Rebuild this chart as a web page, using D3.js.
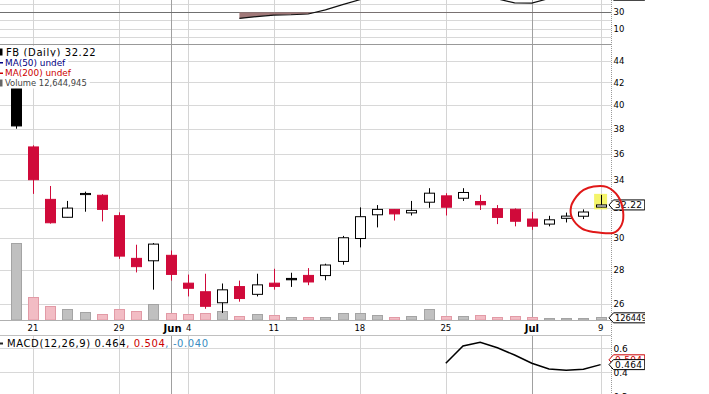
<!DOCTYPE html>
<html>
<head>
<meta charset="utf-8">
<script src="https://cdn.jsdelivr.net/npm/d3@7"></script>
<style>
  body { margin: 0; background: #fff; }
  svg { display: block; font-family: "DejaVu Sans", Verdana, sans-serif; }
</style>
</head>
<body>
<div id="container"></div>
<script>
// FB daily, May 18 - Jul 9 2012
const dates = ["2012-05-18","2012-05-21","2012-05-22","2012-05-23","2012-05-24","2012-05-25",
  "2012-05-29","2012-05-30","2012-05-31","2012-06-01","2012-06-04","2012-06-05","2012-06-06",
  "2012-06-07","2012-06-08","2012-06-11","2012-06-12","2012-06-13","2012-06-14","2012-06-15",
  "2012-06-18","2012-06-19","2012-06-20","2012-06-21","2012-06-22","2012-06-25","2012-06-26",
  "2012-06-27","2012-06-28","2012-06-29","2012-07-02","2012-07-03","2012-07-05","2012-07-06",
  "2012-07-09"];
const opens = [42.05,36.53,32.61,31.37,32.95,32.90,31.48,28.70,28.55,28.89,27.20,26.70,26.07,
  27.00,26.55,27.20,27.48,27.66,27.65,28.51,29.96,31.54,31.91,31.67,32.41,32.86,32.69,32.46,
  31.96,31.92,31.25,30.91,31.30,31.44,32.07];
const highs = [45.00,36.66,33.57,32.50,33.16,32.98,31.71,29.56,29.67,29.19,27.71,27.76,27.18,
  27.35,27.76,28.06,27.82,28.10,28.37,30.13,32.05,32.21,31.93,32.50,33.41,33.05,33.41,32.93,
  32.21,31.98,31.73,31.47,31.69,31.91,32.93];
const lows = [38.00,33.00,30.94,31.36,31.75,31.09,28.67,27.84,26.82,27.35,26.43,25.73,25.50,
  26.13,26.43,26.82,26.98,27.08,27.37,28.31,29.39,30.69,31.15,31.49,32.02,31.49,32.50,31.87,
  30.91,30.76,30.53,30.76,31.02,31.25,32.05];
const closes = [38.23,34.03,31.00,32.00,33.03,31.91,28.84,28.19,29.60,27.72,26.90,25.87,26.81,
  26.31,27.10,27.01,27.40,27.27,28.29,30.01,31.41,31.91,31.60,31.84,33.05,32.06,33.10,32.23,
  31.36,31.10,30.77,31.20,31.45,31.73,32.22];
const volumes = [573.6e6,168.2e6,101.8e6,73.6e6,50.2e6,37.1e6,78.1e6,57.3e6,111.6e6,41.9e6,
  35.2e6,42.0e6,61.5e6,26.2e6,38.0e6,28.2e6,15.8e6,17.1e6,16.9e6,43.6e6,42.9e6,30.8e6,15.6e6,
  21.9e6,74.8e6,24.4e6,24.9e6,28.6e6,17.7e6,19.5e6,14.1e6,8.8e6,10.0e6,10.9e6,12644945];

// RSI(14) from Jun 7, MACD(12,26,9) from Jun 25
const rsiStart = 13;
const rsiVals = [22.5,24.7,26.6,27.0,27.9,33.0,39.5,45.5,55,53,55,62,57,60,55,46.5,41.5,41.3,
  47,49,50,51];
const macdStart = 25;
const macdVals = [0.475,0.619,0.650,0.605,0.544,0.475,0.428,0.417,0.425,0.464];
const macdSignal = 0.504;
const macdHist = -0.040;

const weekTicks = ["2012-05-21","2012-05-29","2012-06-04","2012-06-11","2012-06-18","2012-06-25","2012-07-09"];
const weekLabels = ["21","29","4","11","18","25","9"];
const monthTicks = ["2012-06-01","2012-07-02"];
const monthLabels = ["Jun","Jul"];
const priceTicks = [26,28,30,32,34,36,38,40,42,44];
const rsiGrid = [0,10,20,40];
const rsiLabels = [30,10];
const macdGrid = [0.4,0.6];
const macdLabels = [0.6,0.4,0.2];

document.addEventListener("DOMContentLoaded", function () {
  const last = dates.length - 1;
  const axisX = 611;
  const rsiBox = [0, 44.3];
  const mainBox = [44.3, 320];
  const macdBox = [335, 394];

  const x = d3.scalePoint().domain(dates).range([15.8, 600.6]);
  const yP = d3.scaleLog().domain([26, 44]).range([304, 61]);
  const yV = d3.scaleLinear().domain([0, d3.max(volumes)]).range([320, 244.3]);
  const yR = d3.scaleLinear().domain([0, 30]).range([36.7, 12.3]);
  const yM = d3.scaleLinear().domain([0.4, 0.6]).range([372.3, 348.3]);

  const px = (d) => Math.round(x(d)) + 0.5;
  const crisp = (v) => Math.round(v) + 0.5;
  const red = "#d00a3a";

  const svg = d3
    .select("#container")
    .append("svg")
    .attr("width", 645)
    .attr("height", 394);

  svg.append("rect").attr("width", 645).attr("height", 394).attr("fill", "#fff");

  // vertical grid in each panel
  const vGrid = function (box) {
    const g = svg.append("g");
    g.selectAll("line.w")
      .data(weekTicks)
      .enter()
      .append("line")
      .attr("x1", px).attr("x2", px)
      .attr("y1", box[0]).attr("y2", box[1])
      .attr("stroke", "#d4d4d4");
    g.selectAll("line.m")
      .data(monthTicks)
      .enter()
      .append("line")
      .attr("x1", px).attr("x2", px)
      .attr("y1", box[0]).attr("y2", box[1])
      .attr("stroke", "#a0a0a0");
  };

  const hGrid = function (vals, scale, color) {
    svg.append("g")
      .selectAll("line")
      .data(vals)
      .enter()
      .append("line")
      .attr("x1", 0).attr("x2", axisX)
      .attr("y1", (d) => crisp(scale(d))).attr("y2", (d) => crisp(scale(d)))
      .attr("stroke", color);
  };

  // ---- RSI panel (top, cut off) ----
  hGrid(rsiGrid, yR, "#d8d8d8");
  vGrid(rsiBox);
  hGrid([30], yR, "#707070");

  const rsiDates = dates.slice(rsiStart);
  svg.append("clipPath").attr("id", "below30")
    .append("rect")
    .attr("x", 0).attr("y", yR(30))
    .attr("width", axisX).attr("height", rsiBox[1] - yR(30));

  svg.append("path")
    .datum(rsiVals)
    .attr("clip-path", "url(#below30)")
    .attr("fill", "#a07878")
    .attr("d", d3.area()
      .x((d, i) => x(rsiDates[i]))
      .y0(yR(30))
      .y1((d) => yR(d)));

  svg.append("path")
    .datum(rsiVals)
    .attr("fill", "none")
    .attr("stroke", "#111")
    .attr("stroke-width", 1.2)
    .attr("d", d3.line().x((d, i) => x(rsiDates[i])).y((d) => yR(d)));

  svg.append("line")
    .attr("x1", 0).attr("x2", axisX)
    .attr("y1", 44.5).attr("y2", 44.5)
    .attr("stroke", "#999");

  // ---- main price panel ----
  hGrid(priceTicks, yP, "#d8d8d8");
  vGrid([45, mainBox[1]]);

  // volume bars
  svg.append("g")
    .selectAll("rect")
    .data(dates)
    .enter()
    .append("rect")
    .attr("x", (d) => Math.round(x(d)) - 4.5)
    .attr("width", 10)
    .attr("y", (d, i) => crisp(yV(volumes[i])) - 1)
    .attr("height", (d, i) => 321 - crisp(yV(volumes[i])))
    .attr("fill", (d, i) => (i > 0 && closes[i] < closes[i - 1] ? "#f2bcc4" : "#c0c0c0"))
    .attr("stroke", (d, i) => (i > 0 && closes[i] < closes[i - 1] ? "#e29aa6" : "#a4a4a4"));

  svg.append("line")
    .attr("x1", 0).attr("x2", axisX)
    .attr("y1", 320.5).attr("y2", 320.5)
    .attr("stroke", "#b0b0b0");

  // highlight behind the last candle
  svg.append("rect")
    .attr("x", x(dates[last]) - 6.5)
    .attr("width", 13)
    .attr("y", yP(highs[last]) - 1)
    .attr("height", yP(lows[last]) - yP(highs[last]) + 3)
    .attr("fill", "#f4f46a");

  // candles
  const candleColor = (i) => (i > 0 && closes[i] < closes[i - 1] ? red : "#000");
  const candles = svg.append("g")
    .selectAll("g")
    .data(dates)
    .enter()
    .append("g");

  candles.append("line")
    .attr("x1", px).attr("x2", px)
    .attr("y1", (d, i) => yP(highs[i]))
    .attr("y2", (d, i) => yP(lows[i]))
    .attr("stroke", (d, i) => candleColor(i));

  candles.append("rect")
    .attr("x", (d) => Math.round(x(d)) - 4.5)
    .attr("width", 10)
    .attr("y", (d, i) => yP(Math.max(opens[i], closes[i])))
    .attr("height", (d, i) => Math.max(1, Math.abs(yP(opens[i]) - yP(closes[i]))))
    .attr("fill", (d, i) => (closes[i] < opens[i] ? candleColor(i) : "#fff"))
    .attr("stroke", (d, i) => candleColor(i));

  // legend (white boxes hide what is under it)
  const legend = [
    { text: `FB (Daily) ${closes[last].toFixed(2)}`, color: "#000", size: 10, ls: 0.6, icon: "box", ic: "#000" },
    { text: "MA(50) undef", color: "#000080", size: 8.9, ls: 0, icon: "dash", ic: "#000080" },
    { text: "MA(200) undef", color: "#cc0000", size: 8.9, ls: 0, icon: "dash", ic: "#cc0000" },
    { text: `Volume ${d3.format(",")(volumes[last])}`, color: "#444", size: 8.4, ls: 0, icon: "box", ic: "#666" }
  ];
  const legCy = [52, 62.5, 73, 83];
  legend.forEach((l, i) => {
    const g = svg.append("g");
    const bg = g.append("rect").attr("fill", "#fff");
    const t = g.append("text")
      .attr("x", i === 0 ? 6 : 5)
      .attr("y", legCy[i])
      .attr("dy", "0.36em")
      .attr("font-size", l.size)
      .attr("letter-spacing", l.ls)
      .attr("fill", l.color)
      .text(l.text);
    const w = t.node().getComputedTextLength() + 8;
    bg.attr("x", 0).attr("y", legCy[i] - 6).attr("width", w).attr("height", i === 3 ? 11.5 : 10.5);
    if (l.icon === "box") {
      g.append("rect").attr("x", 0).attr("y", legCy[i] - 3.5).attr("width", 2.5).attr("height", 7).attr("fill", l.ic);
    } else {
      g.append("rect").attr("x", 0).attr("y", legCy[i] - 0.5).attr("width", 3).attr("height", 1.5).attr("fill", l.ic);
    }
  });

  // ---- x axis labels ----
  const xl = svg.append("g").attr("font-size", 8.5).attr("fill", "#000");
  weekTicks.forEach((d, i) => {
    xl.append("text")
      .attr("x", x(d) + (weekLabels[i] === "4" ? 1 : 0))
      .attr("y", 328)
      .attr("dy", "0.36em")
      .attr("text-anchor", "middle")
      .text(weekLabels[i]);
  });
  monthTicks.forEach((d, i) => {
    xl.append("text")
      .attr("x", x(d) + (i === 0 ? 2 : 0))
      .attr("y", 328)
      .attr("dy", "0.36em")
      .attr("text-anchor", "middle")
      .attr("font-size", 10)
      .attr("font-weight", "bold")
      .text(monthLabels[i]);
  });

  // ---- MACD panel ----
  svg.append("line")
    .attr("x1", 0).attr("x2", axisX)
    .attr("y1", 335.5).attr("y2", 335.5)
    .attr("stroke", "#c0c0c0");
  hGrid(macdGrid, yM, "#d8d8d8");
  vGrid([336, macdBox[1]]);

  const macdDates = dates.slice(macdStart);
  svg.append("path")
    .datum(macdVals)
    .attr("fill", "none")
    .attr("stroke", "#000")
    .attr("stroke-width", 1.5)
    .attr("d", d3.line().x((d, i) => x(macdDates[i])).y((d) => yM(d)));

  const ml = svg.append("text")
    .attr("x", 7)
    .attr("y", 343)
    .attr("dy", "0.36em")
    .attr("font-size", 10)
    .attr("letter-spacing", 0.6);
  ml.append("tspan").attr("fill", "#000").text(`MACD(12,26,9) ${macdVals[macdVals.length - 1].toFixed(3)}`);
  ml.append("tspan").attr("fill", "#cc0000").text(`, ${macdSignal.toFixed(3)}`);
  ml.append("tspan").attr("fill", "#3a8cc0").text(`, ${macdHist.toFixed(3)}`);
  svg.append("rect").attr("x", 0).attr("y", 342.5).attr("width", 3).attr("height", 2).attr("fill", "#222");

  // ---- right axis ----
  svg.append("line")
    .attr("x1", axisX + 0.5).attr("x2", axisX + 0.5)
    .attr("y1", 0).attr("y2", 394)
    .attr("stroke", "#9a9a9a")
    .attr("stroke-dasharray", "1,1");

  const rightLabels = function (vals, scale, size, fmt) {
    svg.append("g")
      .selectAll("text")
      .data(vals)
      .enter()
      .append("text")
      .attr("x", 613.5)
      .attr("y", (d) => scale(d))
      .attr("dy", "0.36em")
      .attr("font-size", size)
      .attr("fill", "#000")
      .text(fmt);
  };
  rightLabels(rsiLabels, yR, 8.5, (d) => d);
  rightLabels(priceTicks, yP, 8.5, (d) => d);
  rightLabels(macdLabels, yM, 9, (d) => d.toFixed(1));

  // value tags
  const tag = function (cy, text, color, size, ls) {
    const g = svg.append("g");
    const poly = g.append("path")
      .attr("fill", "#fff")
      .attr("stroke", color);
    const t = g.append("text")
      .attr("x", 615)
      .attr("y", cy)
      .attr("dy", "0.36em")
      .attr("font-size", size)
      .attr("letter-spacing", ls)
      .attr("fill", color)
      .text(text);
    const r = 615 + t.node().getComputedTextLength() + 2.5;
    poly.attr("d", `M609,${cy}L613.5,${cy - 5}L${r},${cy - 5}L${r},${cy + 5}L613.5,${cy + 5}Z`);
  };
  tag(yR(rsiVals[rsiVals.length - 1]), rsiVals[rsiVals.length - 1].toFixed(2), "#000", 9, 0.3);
  tag(yP(closes[last]), closes[last].toFixed(2), "#000", 9, 0.3);
  tag(yV(volumes[last]) - 0.5, String(volumes[last]), "#000", 8.3, 0);
  tag(yM(macdSignal), macdSignal.toFixed(3), "#cc0000", 9, 0.3);
  tag(yM(macdVals[macdVals.length - 1]), macdVals[macdVals.length - 1].toFixed(3), "#000", 9, 0.3);

  // hand drawn red loop around the last candles
  const ax = x(dates[last]);
  const ay = yP(closes[last]);
  const loop = [[-7, -18.5], [6, -18], [17.5, -8.5], [22.5, 6.5], [21, 20], [12.5, 28],
    [-7, 27], [-19, 23.5], [-28.5, 13], [-29.5, 1.5], [-24, -8.5], [-17, -15]];
  svg.append("path")
    .datum(loop)
    .attr("fill", "none")
    .attr("stroke", "#e01818")
    .attr("stroke-width", 2)
    .attr("d", d3.line().x((d) => ax + d[0]).y((d) => ay + d[1]).curve(d3.curveCardinalClosed));
});
</script>
</body>
</html>
